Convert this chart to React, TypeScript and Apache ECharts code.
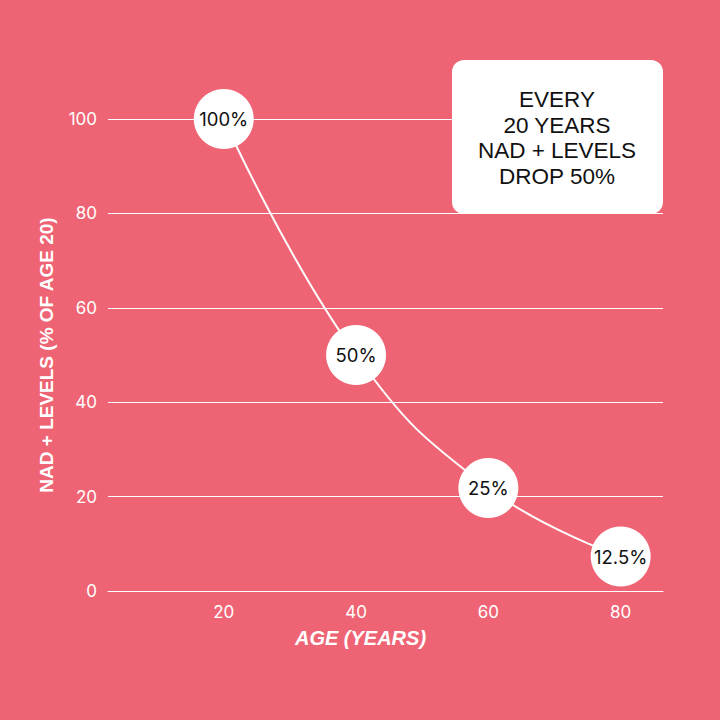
import React, { useEffect, useRef } from "react";
import * as echarts from "echarts";

const ages = [20, 40, 60, 80];
const levels = [100, 50, 21.8, 7.3];
const pointLabels = ["100%", "50%", "25%", "12.5%"];
const xTicks = [20, 40, 60, 80];
const boxLines = ["EVERY", "20 YEARS", "NAD + LEVELS", "DROP 50%"];

const BG = "#EF6474";

export default function App() {
  const ref = useRef<HTMLDivElement>(null);
  useEffect(() => {
    if (!ref.current) return;
    const chart = echarts.init(ref.current, undefined, { renderer: "svg" });
    const data = ages.map((a, i) => ({
      value: [a, levels[i]],
      label: { formatter: pointLabels[i] },
    }));
    chart.setOption({
      animation: false,
      backgroundColor: BG,
      grid: { left: 108, right: 57, top: 119, bottom: 129, containLabel: false },
      xAxis: {
        type: "value",
        min: 2.5,
        max: 86.4,
        name: "AGE (YEARS)",
        nameLocation: "middle",
        nameGap: 37,
        nameTextStyle: {
          color: "#fff",
          fontFamily: "Liberation Sans",
          fontWeight: "bold",
          fontStyle: "italic",
          fontSize: 20,
          padding: [0, 50, 0, 0],
        },
        axisLine: { show: true, lineStyle: { color: "#fff", width: 1 } },
        axisTick: { show: false },
        splitLine: { show: false },
        axisLabel: {
          customValues: xTicks,
          color: "#fff",
          fontFamily: "Inter",
          fontSize: 17,
          margin: 12,
        },
      },
      yAxis: {
        type: "value",
        min: 0,
        max: 100,
        interval: 20,
        name: "NAD + LEVELS (% OF AGE 20)",
        nameLocation: "middle",
        nameGap: 52,
        nameTextStyle: {
          color: "#fff",
          fontFamily: "Liberation Sans",
          fontWeight: "bold",
          fontSize: 19,
        },
        axisLine: { show: false },
        axisTick: { show: false },
        splitLine: { show: true, lineStyle: { color: "#fff", width: 1 } },
        axisLabel: {
          color: "#fff",
          fontFamily: "Inter",
          fontSize: 17,
          margin: 11,
        },
      },
      series: [
        {
          type: "line",
          data,
          smooth: 0.45,
          lineStyle: { color: "#fff", width: 2 },
          symbol: "circle",
          symbolSize: 60,
          itemStyle: { color: "#fff" },
          clip: false,
          label: {
            show: true,
            position: "inside",
            color: "#111",
            fontFamily: "Inter",
            fontSize: 18.5,
          },
          z: 3,
        },
      ],
      graphic: [
        {
          type: "rect",
          shape: { x: 452, y: 60, width: 211, height: 154, r: 12 },
          style: { fill: "#fff" },
          z: 10,
        },
        {
          type: "text",
          x: 557,
          y: 138,
          z: 11,
          style: {
            text: boxLines.join("\n"),
            fill: "#111",
            fontFamily: "Liberation Sans",
            fontSize: 22.5,
            lineHeight: 25.5,
            align: "center",
            verticalAlign: "middle",
          },
        },
      ],
    });
    return () => chart.dispose();
  }, []);
  return (
    <div
      ref={ref}
      style={{ position: "fixed", left: 0, top: 0, width: 720, height: 720 }}
    />
  );
}
